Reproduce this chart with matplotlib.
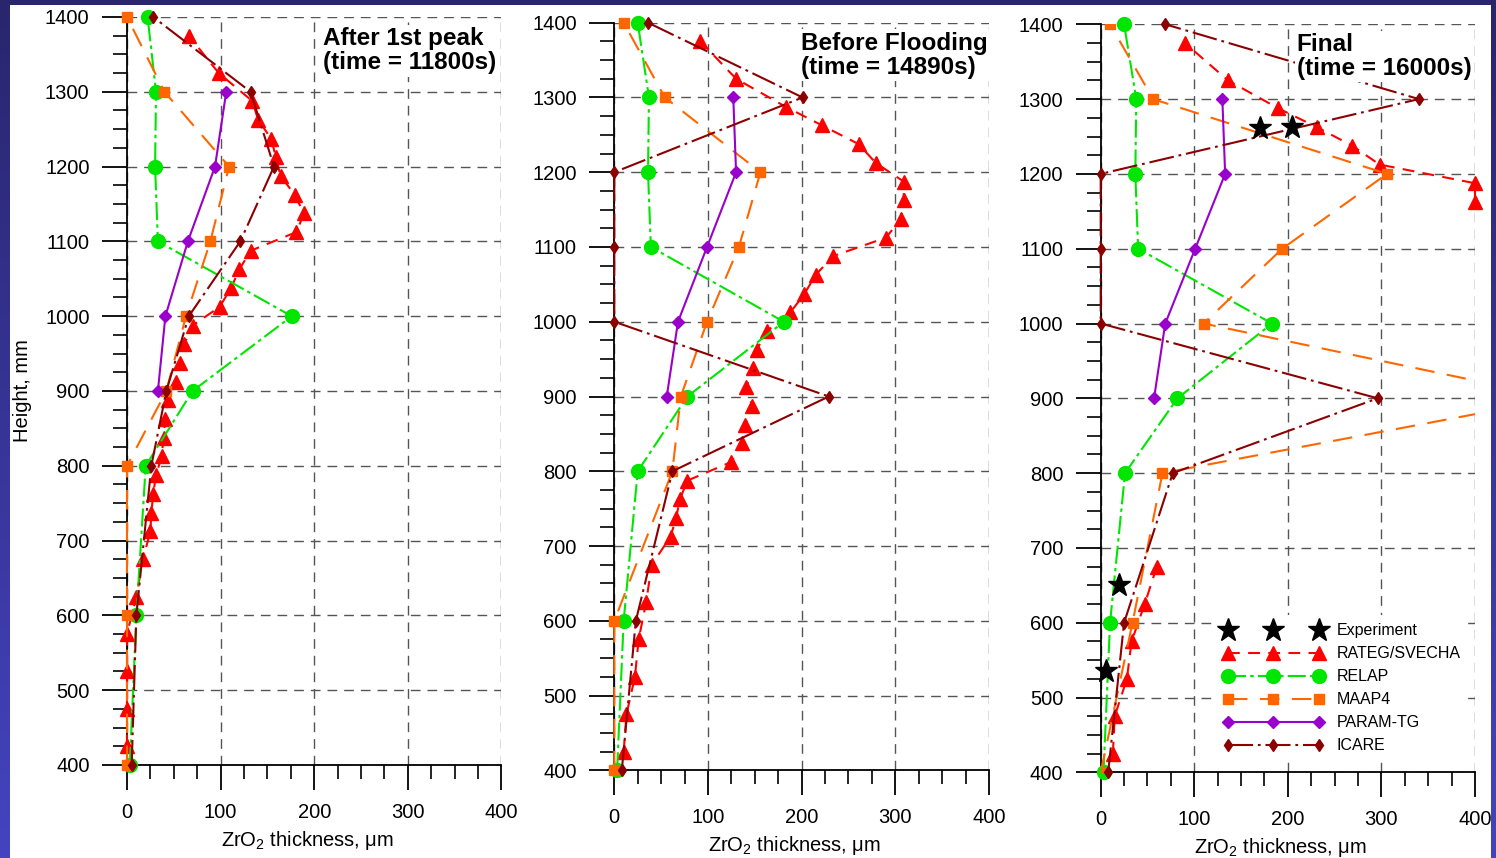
import numpy as np
import matplotlib
matplotlib.use('Agg')
import matplotlib.pyplot as plt
from matplotlib.patches import Rectangle
from matplotlib.ticker import MultipleLocator
from matplotlib.colors import LinearSegmentedColormap

plt.rcParams['font.family'] = ['Liberation Sans', 'DejaVu Sans']
plt.rcParams['mathtext.fontset'] = 'custom'
plt.rcParams['mathtext.rm'] = 'Liberation Sans'
plt.rcParams['mathtext.it'] = 'Liberation Sans:italic'
plt.rcParams['mathtext.bf'] = 'Liberation Sans:bold'
plt.rcParams['lines.scale_dashes'] = False

# ---------------- data ----------------
H_CODE = [400, 600, 800, 900, 1000, 1100, 1200, 1300, 1400]
H_PARAM = [900, 1000, 1100, 1200, 1300]
H_RATEG = [425, 475, 525, 575, 625, 675, 712.5, 737.5, 762.5, 787.5, 812.5, 837.5,
           862.5, 887.5, 912.5, 937.5, 962.5, 987.5, 1012.5, 1037.5, 1062.5, 1087.5,
           1112.5, 1137.5, 1162.5, 1187.5, 1212.5, 1237.5, 1262.5, 1287.5, 1325, 1375]

nan = np.nan
RATEG_1 = [0, 0, 0, 0, 10, 17, 25, 26, 28, 31, 37, 39, 41, 44, 52, 57, 61, 70, 99, 111,
           120, 132, 181, 189, 179, 164, 159, 154, 140, 134, 98, 66]
RATEG_2 = [10, 13, 22, 26, 34, 40, 60, 66, 70, 78, 125, 136, 140, 147, 141, 148, 152, 163,
           188, 203, 215, 233, 290, 306, 309, 309, 279, 261, 222, 183, 130, 92]
RATEG_3 = [13, 15, 28, 33, 47, 60, nan, nan, nan, nan, nan, nan, nan, nan, nan, nan, nan,
           nan, nan, nan, nan, nan, nan, nan, 400, 400, 298, 269, 231, 190, 136, 90]

RELAP_1 = [3, 10, 20, 70, 176, 33, 30, 31, 22]
RELAP_2 = [3, 10, 25, 78, 181, 39, 36, 37, 25]
RELAP_3 = [3, 10, 26, 82, 183, 40, 37, 38, 25]

MAAP4_1 = [0, 0, 0, 42, 63, 89, 109, 40, 0]
MAAP4_2 = [0, 0, 62, 71, 99, 133, 156, 54, 10]
MAAP4_3 = [0, 34, 66, 490, 110, 194, 306, 56, 10]

PARAM_1 = [33, 41, 65, 94, 106]
PARAM_2 = [56, 68, 99, 130, 127]
PARAM_3 = [57, 69, 101, 133, 130]

ICARE_1 = [5, 10, 26, 42, 66, 121, 157, 132, 28]
ICARE_2 = [8, 23, 62, 229, 0, 0, 0, 201, 36]
ICARE_3 = [8, 25, 77, 296, 0, 0, 0, 340, 69]

EXP_X = [6, 20, 170, 204]
EXP_H = [535, 651, 1262, 1263]

TITLES = ["After 1st peak\n(time = 11800s)",
          "Before Flooding\n(time = 14890s)",
          "Final\n(time = 16000s)"]
XTICKS = [0, 100, 200, 300, 400]
YTICKS = [400, 500, 600, 700, 800, 900, 1000, 1100, 1200, 1300, 1400]
LABELS = ["Experiment", "RATEG/SVECHA", "RELAP", "MAAP4", "PARAM-TG", "ICARE"]

# ---------------- figure ----------------
W, H = 1496, 858
fig = plt.figure(figsize=(W / 100, H / 100), dpi=100)

bg = fig.add_axes([0, 0, 1, 1], zorder=-10)
grad = np.linspace(0, 1, 256)[:, None]
cmap = LinearSegmentedColormap.from_list('bg', ['#29266e', '#4444c0'])
bg.imshow(grad, extent=[0, 1, 0, 1], aspect='auto', cmap=cmap, origin='upper')
bg.add_patch(Rectangle((10 / W, 0), (1491 - 10) / W, 1 - 5 / H,
                       facecolor='white', edgecolor='none'))
bg.set_xlim(0, 1)
bg.set_ylim(0, 1)
bg.axis('off')

# axes rectangles (pixels: left, top-of-axes, width, height)
rects = [(127, 17, 374.5, 748), (614.3, 22.7, 374.7, 747.6), (1100.7, 24.3, 374.3, 748)]
text_pos = [(0.523, 0.986), (0.498, 0.988), (0.524, 0.988)]

series = [
    (RATEG_1, RELAP_1, MAAP4_1, PARAM_1, ICARE_1),
    (RATEG_2, RELAP_2, MAAP4_2, PARAM_2, ICARE_2),
    (RATEG_3, RELAP_3, MAAP4_3, PARAM_3, ICARE_3),
]

C_RED = '#ff0000'
C_GREEN = '#00e600'
C_ORANGE = '#ff6600'
C_PURPLE = '#9900cc'
C_DRED = '#8b0000'

axes = []
for i, (l, t, w, h) in enumerate(rects):
    ax = fig.add_axes([l / W, 1 - (t + h) / H, w / W, h / H])
    ax.patch.set_alpha(0)
    axes.append(ax)
    ax.set_xlim(0, 400)
    ax.set_ylim(400, 1400)
    ax.set_xticks(XTICKS)
    ax.set_yticks(YTICKS)
    ax.xaxis.set_minor_locator(MultipleLocator(25))
    ax.yaxis.set_minor_locator(MultipleLocator(25))
    for s in ['top', 'right']:
        ax.spines[s].set_visible(False)
    for s in ['left', 'bottom']:
        ax.spines[s].set_linewidth(1.3)
    ax.tick_params(which='major', direction='out', length=18, width=1.3,
                   labelsize=14.5, pad=9)
    ax.tick_params(which='minor', direction='out', length=10, width=1.2)
    ax.grid(True, which='major', color='#555555', linestyle=(0, (7, 5)), linewidth=1.0)
    ax.set_axisbelow(True)

    rateg, relap, maap, param, icare = series[i]
    ax.plot(rateg, H_RATEG, color=C_RED, ls=(0, (8.5, 6)), lw=1.5, marker='^', ms=9.5,
            clip_on=False, zorder=3)
    ax.plot(relap, H_CODE, color=C_GREEN, ls=(0, (13, 3, 2.5, 3)), lw=1.5, marker='o',
            ms=10, clip_on=False, zorder=3)
    ax.plot(maap, H_CODE, color=C_ORANGE, ls=(0, (14, 9)), lw=1.5, marker='s', ms=7,
            clip_on=(i == 2), zorder=3)
    ax.plot(param, H_PARAM, color=C_PURPLE, ls='-', lw=1.5, marker='D', ms=6.5,
            clip_on=False, zorder=3)
    ax.plot(icare, H_CODE, color=C_DRED, ls=(0, (18, 3.5, 2, 3.5)), lw=1.5, marker='d',
            ms=6.5, clip_on=False, zorder=3)

    ax.set_xlabel(r'ZrO$_\mathrm{2}$ thickness, μm', fontsize=14.5)
    ax.xaxis.set_label_coords(0.481, -0.085)
    if i == 0:
        ax.set_ylabel('Height, mm', fontsize=14.5)
        ax.yaxis.set_label_coords(-0.254, 0.5)

    tx, ty = text_pos[i]
    ax.text(tx, ty, TITLES[i], transform=ax.transAxes, ha='left', va='top',
            fontsize=17.5, fontweight='bold', linespacing=1.05, zorder=5,
            bbox=dict(facecolor='white', edgecolor='none', pad=1.5))

ax3 = axes[2]
h_exp, = ax3.plot(EXP_X, EXP_H, ls='none', marker='*', ms=17, color='black',
                  clip_on=False, zorder=6)
lines3 = ax3.get_lines()
handles = [h_exp] + [ln for ln in lines3 if ln is not h_exp][:5]
leg = ax3.legend(handles, LABELS, loc='upper left', bbox_to_anchor=(0.305, 0.21),
                 numpoints=3, handlelength=6.3, handletextpad=0.8, fontsize=11.5,
                 labelspacing=0.5, borderaxespad=0, frameon=True, facecolor='white',
                 edgecolor='none', framealpha=1, fancybox=False, borderpad=0.5)
leg.set_zorder(4)

fig.savefig('out.png', dpi=100)
